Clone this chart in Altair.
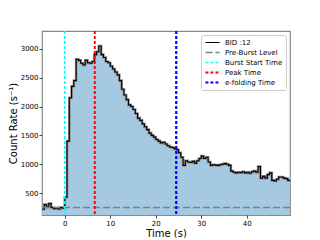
import altair as alt
import numpy as np
import pandas as pd

t_start = -5.0
t_step = 0.5
rate = [
    220, 300, 260, 320, 250, 230, 240, 225, 250, 240,
    430, 1400, 2150, 2350, 2450, 2820, 2800, 2750, 2720, 2800,
    2760, 2750, 2780, 2900, 2950, 3050, 2900, 2850, 2780, 2760,
    2700, 2650, 2600, 2550, 2450, 2300, 2200, 2120, 2030, 2000,
    1950, 1880, 1800, 1760, 1700, 1650, 1600, 1540, 1500, 1470,
    1430, 1400, 1370, 1380, 1350, 1320, 1300, 1290, 1270, 1250,
    1200, 1120, 980, 1060, 1040, 1030, 1050, 1020, 1060, 1100,
    1140, 1100, 1120, 1040, 980, 990, 985, 980, 990, 1000,
    1010, 1000, 980, 880, 860, 850, 860, 855, 870, 850,
    860, 845, 870, 880, 860, 960, 760, 790, 760, 820,
    850, 720, 710, 740, 780, 780, 760, 750, 720, 700,
]
times = t_start + t_step * np.arange(len(rate))

x_ticks = [0, 10, 20, 30, 40]
y_ticks = [500, 1000, 1500, 2000, 2500, 3000]

pre_burst_level = 250
burst_start = 0.0
peak_time = 6.6
efold_time = 24.5

kinds = ["BID :12", "Pre-Burst Level", "Burst Start Time", "Peak Time", "e-folding Time"]
colors = ["black", "gray", "cyan", "red", "blue"]
dashes = [[1, 0], [7, 3], [3, 2], [3, 2], [3, 2]]
widths = [1.1, 2.2, 0.9, 0.9, 0.9]

lc = pd.DataFrame({"t": times, "rate": rate, "kind": "BID :12"})
vlines = pd.DataFrame({"t": [burst_start, peak_time, efold_time],
                       "kind": ["Burst Start Time", "Peak Time", "e-folding Time"]})
hline = pd.DataFrame({"level": [pre_burst_level], "kind": ["Pre-Burst Level"]})

xscale = alt.Scale(domain=[-5, 49.5], nice=False, zero=False)
yscale = alt.Scale(domain=[120, 3310], nice=False, zero=False)

color = alt.Color("kind:N", scale=alt.Scale(domain=kinds, range=colors),
                  legend=alt.Legend(title=None, orient="top-right", offset=4,
                                    symbolType="stroke", fillColor="white",
                                    strokeColor="#cccccc", padding=3,
                                    cornerRadius=2, labelFontSize=7,
                                    symbolSize=200, rowPadding=1, clipHeight=9,
                                    labelFont="DejaVu Sans"))
dash = alt.StrokeDash("kind:N", scale=alt.Scale(domain=kinds, range=dashes), legend=alt.Legend(title=None))
sw = alt.StrokeWidth("kind:N", scale=alt.Scale(domain=kinds, range=widths), legend=alt.Legend(title=None))

xax = alt.Axis(values=x_ticks, title="Time (s)", format="d")
yax = alt.Axis(values=y_ticks, title="Count Rate (s⁻¹)", format="d")

X = alt.X("t:Q", scale=xscale, axis=xax)
Y = alt.Y("rate:Q", scale=yscale, axis=yax)

area = alt.Chart(lc).mark_area(interpolate="step-after", color="#a6c9e2", clip=True).encode(
    x=X, y=Y, y2=alt.datum(0),
)
halo = alt.Chart(lc).mark_line(interpolate="step-after", color="#909090", strokeWidth=2.6, clip=True).encode(
    x=X, y=Y,
)
line = alt.Chart(lc).mark_line(interpolate="step-after", clip=True).encode(
    x=X, y=Y, color=color, strokeDash=dash, strokeWidth=sw,
)
vr = alt.Chart(vlines).mark_rule().encode(
    x=X, color=color, strokeDash=dash, strokeWidth=sw,
)
hr = alt.Chart(hline).mark_rule().encode(
    y=alt.Y("level:Q", scale=yscale, axis=yax),
    color=color, strokeDash=dash, strokeWidth=sw,
)

chart = alt.layer(area, halo, line, hr, vr).properties(
    width=248, height=184, background="white",
    padding={"left": 0, "top": 21, "right": 0, "bottom": 0},
).configure_view(stroke="#888888", strokeWidth=1.2).configure_axis(
    grid=False, labelFontSize=7, titleFontSize=10, tickSize=3, labelPadding=1,
    titlePadding=2, labelFont="DejaVu Sans", titleFont="DejaVu Sans",
    titleFontWeight="normal", domain=False, tickColor="#444", labelColor="black",
    titleColor="black", labelOverlap=False,
)

chart.save("out.html", embed_options={"renderer": "svg", "actions": False})
